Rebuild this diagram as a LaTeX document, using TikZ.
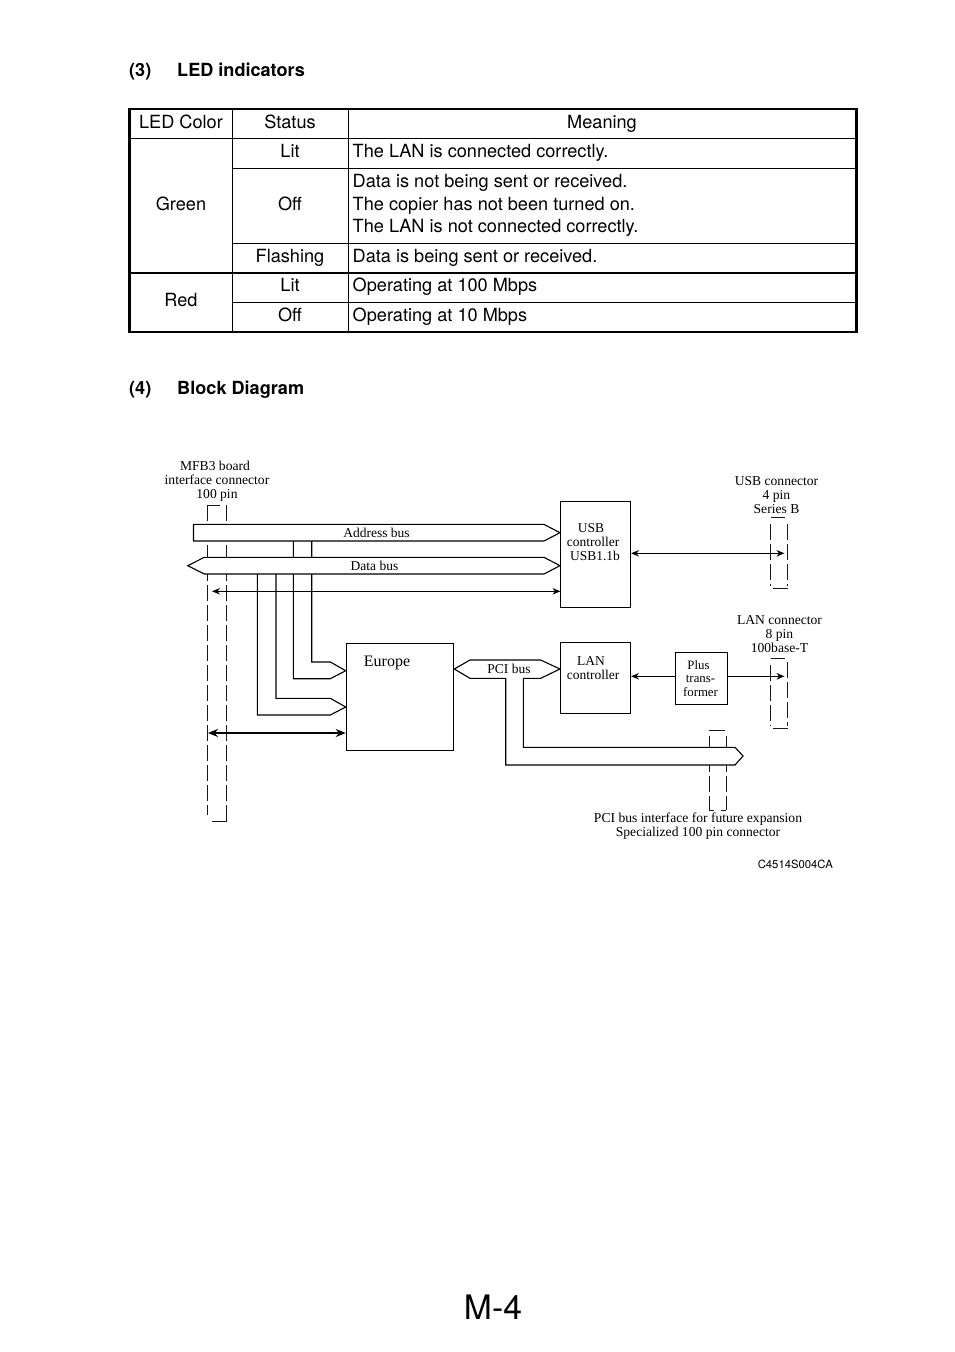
\documentclass[tikz,border=0pt]{standalone}
\usepackage{fontspec}
\setmainfont{TeX Gyre Heros}
\newfontfamily\diagfont{Liberation Serif}
\usetikzlibrary{arrows.meta}
\tikzset{
  tabletext/.style={inner sep=0pt,font=\fontsize{18.15}{22.7}\selectfont},
  celltext/.style={tabletext,anchor=base},
  celltextl/.style={tabletext,anchor=base west},
  headtext/.style={inner sep=0pt,anchor=base west,font=\fontsize{18.1}{22}\selectfont\bfseries},
  grid thin/.style={line width=1.1pt},
  grid thick/.style={line width=2.4pt},
  outer frame/.style={line width=2.8pt},
  difftext/.style={inner sep=0pt,align=center,font=\diagfont\fontsize{13.5}{14}\selectfont},
  boxshape/.style={draw,line width=1.1pt,fill=white,inner sep=0pt,minimum width=#1},
  busline/.style={draw,line width=1.1pt,fill=white,line join=miter},
  sigarrow/.style={line width=1.1pt,{Stealth[length=8pt,width=6.5pt]}-{Stealth[length=8pt,width=6.5pt]}},
  sigarrowr/.style={line width=1.1pt,-{Stealth[length=8pt,width=6.5pt]}},
  sigarrowl/.style={line width=1.1pt,{Stealth[length=8pt,width=6.5pt]}-},
  fatarrow/.style={line width=2pt,{Stealth[length=10pt,width=8pt]}-{Stealth[length=10pt,width=8pt]}},
  connedge/.style={line width=1pt,black!90,dash pattern=on 15.5pt off 4.5pt},
  connend/.style={line width=1pt,black!90},
}
\begin{document}
\begin{tikzpicture}[x=1pt,y=-1pt]
\useasboundingbox (0,0) rectangle (954,1352);
\fill[white] (0,0) rectangle (954,1352);
% headings
\node[headtext] (h3n) at (129,76) {(3)};
\node[headtext] (h3) at (177,76) {LED indicators};
\node[headtext] (h4n) at (129,394) {(4)};
\node[headtext] (h4) at (177,394) {Block Diagram};
% table
\draw[grid thin] (232.5,109) -- (232.5,332);
\draw[grid thin] (348.5,109) -- (348.5,332);
\draw[grid thin] (129.5,138.5) -- (856.5,138.5);
\draw[grid thin] (232.5,168.5) -- (856.5,168.5);
\draw[grid thin] (232.5,243.5) -- (856.5,243.5);
\draw[grid thick] (129.5,273) -- (856.5,273);
\draw[grid thin] (232.5,302.5) -- (856.5,302.5);
\draw[outer frame] (129.5,109) rectangle (856.5,332);
\node[celltext] (c1) at (181,128) {LED Color};
\node[celltext] (c2) at (290,128) {Status};
\node[celltext] (c3) at (602,128) {Meaning};
\node[celltext] (g) at (181,210) {Green};
\node[celltext] (r) at (181,306) {Red};
\node[celltext] (s1) at (290,157) {Lit};
\node[celltext] (s2) at (290,210) {Off};
\node[celltext] (s3) at (290,262) {Flashing};
\node[celltext] (s4) at (290,291) {Lit};
\node[celltext] (s5) at (290,321) {Off};
\node[celltextl] (m1) at (352.5,157) {The LAN is connected correctly.};
\node[celltextl] (m2a) at (352.5,187) {Data is not being sent or received.};
\node[celltextl] (m2b) at (352.5,210) {The copier has not been turned on.};
\node[celltextl] (m2c) at (352.5,232.5) {The LAN is not connected correctly.};
\node[celltextl] (m3) at (352.5,262) {Data is being sent or received.};
\node[celltextl] (m4) at (352.5,291) {Operating at 100 Mbps};
\node[celltextl] (m5) at (352.5,321) {Operating at 10 Mbps};
% MFB3 connector
\coordinate (ma) at (220,505);
\coordinate (mb) at (207,505);
\coordinate (mc) at (207,815);
\coordinate (md) at (212,821);
\coordinate (me) at (226.7,821);
\coordinate (mf) at (226.7,505);
\draw[connend] (ma) -- (mb);
\draw[connend] (md) -- (me);
\draw[connedge] (mb) -- (mc);
\draw[connedge] (mf) -- (me);
% boxes
\node[boxshape=70pt,minimum height=105.6pt] (usb) at (595.5,554.5) {};
\node[boxshape=70pt,minimum height=70.8pt] (lan) at (595.5,677.9) {};
\node[boxshape=107.4pt,minimum height=107pt] (europe) at (400,696.8) {};
\node[boxshape=52.4pt,minimum height=52pt] (plus) at (701.5,678.3) {};
% branches
\draw[line width=1.1pt] (311.7,541) -- (311.7,662) -- (330.3,662) -- (europe.west |- 0,670.7) -- (330.3,678.7) -- (293.3,678.7) -- (293.3,541);
\draw[line width=1.1pt] (276,574) -- (276,698.3) -- (330.3,698.3) -- (europe.west |- 0,707) -- (330.3,715) -- (257.3,715) -- (257.3,574);
% signal line
\coordinate (sigl) at (212,591.3);
\coordinate (sigr) at (560.5,591.3);
\draw[sigarrow] (sigl) -- (sigr);
% buses
\draw[busline] (193.5,524.4) -- (544,524.4) -- (usb.west |- 0,532.7) -- (544,541) -- (193.5,541) -- cycle;
\draw[busline] (187.7,565.7) -- (204.3,557.3) -- (544,557.3) -- (usb.west |- 0,565.7) -- (544,574) -- (204.3,574) -- cycle;
\node[difftext] (addr) at (376.5,532.7) {Address bus};
\node[difftext] (data) at (374.5,565.7) {Data bus};
% fat arrow
\coordinate (fatl) at (208,733);
\draw[fatarrow] (fatl) -- (europe.west |- fatl);
% USB link
\coordinate (usbc) at (784.5,553.3);
\draw[sigarrow] (usb.east |- usbc) -- (usbc);
% USB connector
\coordinate (ua) at (770.5,517);
\coordinate (ub) at (785,517);
\coordinate (uc) at (770.3,586);
\coordinate (ud) at (787.3,586);
\draw[connend] (ua) -- (ub);
\draw[connend] (773,588) -- (788,588);
\draw[connedge] (770.3,524) -- (uc);
\draw[connedge] (787.3,524) -- (ud);
% LAN links
\coordinate (lanc) at (784.5,676.3);
\draw[sigarrowl] (lan.east |- lanc) -- (plus.west |- lanc);
\draw[sigarrowr] (plus.east |- lanc) -- (lanc);
% LAN connector
\coordinate (la) at (770.5,658.3);
\coordinate (lb) at (785,658.3);
\coordinate (lc) at (770.3,726);
\coordinate (ld) at (787.3,726);
\draw[connend] (la) -- (lb);
\draw[connend] (773,728.3) -- (788,728.3);
\draw[connedge] (770.3,665) -- (lc);
\draw[connedge] (787.3,662) -- (ld);
% PCI connector
\coordinate (pa) at (709.3,730.3);
\coordinate (pb) at (724.5,730.3);
\coordinate (pc) at (709.3,810);
\coordinate (pd) at (726.3,810);
\draw[connend] (pa) -- (pb);
\draw[connend] (pc) -- (714,810);
\draw[connend] (721,810) -- (pd);
\draw[connedge] (709.3,736) -- (pc);
\draw[connedge] (726.3,736) -- (pd);
% PCI bus
\draw[busline] (europe.east |- 0,669) -- (470,660) -- (540.7,660) -- (lan.west |- 0,669) -- (540.7,678.3) -- (523.3,678.3) -- (523.3,747.3) -- (735,747.3) -- (743,756) -- (735,765) -- (505.7,765) -- (505.7,678.3) -- (470,678.3) -- cycle;
\node[difftext] (pci) at (509,669) {PCI bus};
% labels
\node[difftext,font=\diagfont\fontsize{13.6}{14}\selectfont] (mfb) at (217,481) {MFB3 board\hspace{4pt}\mbox{}\\interface connector\\100 pin};
\node[difftext] (usbl) at (593,542) {USB\hspace{4pt}\mbox{}\\controller\\\hspace{4pt}USB1.1b};
\node[difftext] (lanl) at (593,668) {LAN\hspace{4pt}\mbox{}\\controller};
\node[difftext,font=\diagfont\fontsize{16}{18}\selectfont] (eul) at (387,662.5) {Europe};
\node[difftext,font=\diagfont\fontsize{12.8}{13.4}\selectfont] (plusl) at (700.5,678.5) {Plus\hspace{4pt}\mbox{}\\trans-\\former};
\node[difftext,font=\diagfont\fontsize{13.6}{14}\selectfont] (usbt) at (776.5,495.5) {USB connector\\4 pin\\Series B};
\node[difftext,font=\diagfont\fontsize{13.6}{14}\selectfont] (lant) at (779.5,634) {LAN connector\\8 pin\\100base-T};
\node[difftext,font=\diagfont\fontsize{13.6}{14}\selectfont] (pcit) at (698,826.5) {PCI bus interface for future expansion\\Specialized 100 pin connector};
\node[inner sep=0pt,font=\fontsize{11.3}{13}\selectfont] (code) at (795.3,864.5) {C4514S004CA};
\node[inner sep=0pt,anchor=base,font=\fontsize{33.7}{38}\selectfont] (page) at (493,1319) {M-4};
\end{tikzpicture}
\end{document}
